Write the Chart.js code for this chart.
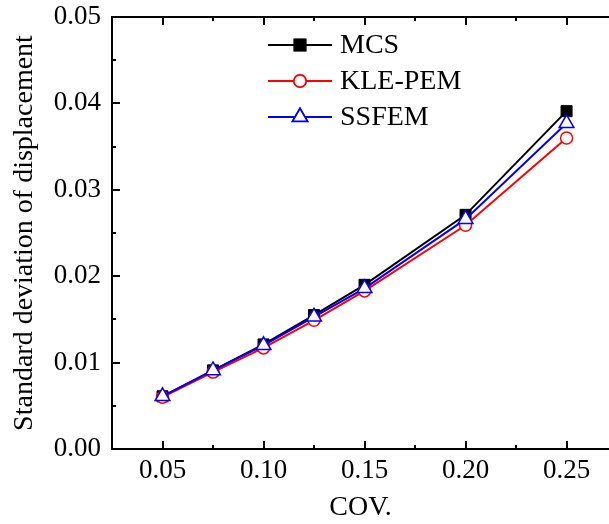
<!DOCTYPE html>
<html>
<head>
<meta charset="utf-8">
<script src="https://cdn.jsdelivr.net/npm/chart.js@4.4.0/dist/chart.umd.min.js"></script>
<style>
  html, body { margin: 0; padding: 0; background: #fff; }
  #wrap { width: 609px; height: 524px; }
</style>
</head>
<body>
<div id="wrap"><canvas id="myChart" width="609" height="524"></canvas></div>
<script>
const cov = [0.05, 0.075, 0.10, 0.125, 0.15, 0.20, 0.25];
const mcs = [0.0061, 0.0091, 0.0121, 0.0155, 0.0190, 0.0271, 0.0391];
const klePem = [0.0060, 0.0089, 0.0117, 0.0149, 0.0183, 0.0259, 0.0360];
const ssfem = [0.0061, 0.0091, 0.0120, 0.0153, 0.0186, 0.0266, 0.0377];

const xTicks = [0.05, 0.10, 0.15, 0.20, 0.25];
const xMinorTicks = [0.075, 0.125, 0.175, 0.225];
const yTicks = [0.00, 0.01, 0.02, 0.03, 0.04, 0.05];
const yMinorTicks = [0.005, 0.015, 0.025, 0.035, 0.045];

const seriesNames = ['MCS', 'KLE-PEM', 'SSFEM'];

const FONT = '"Liberation Serif", "Times New Roman", serif';

function toPoints(ys) {
    return cov.map((x, i) => ({ x: x, y: ys[i] }));
}

function noPad(s) {
    s.paddingLeft = 0; s.paddingRight = 0;
    s.paddingTop = 0; s.paddingBottom = 0;
}

// inward ticks, top spine and legend inside the plot
const framePlugin = {
    id: 'frame',
    afterDraw(chart) {
        const ctx = chart.ctx;
        const area = chart.chartArea;
        const xs = chart.scales.x;
        const ys = chart.scales.y;
        ctx.save();
        ctx.strokeStyle = '#000';
        ctx.lineWidth = 2;
        ctx.beginPath();
        ctx.moveTo(area.left - 1, area.top);
        ctx.lineTo(area.right, area.top);
        ctx.stroke();

        ctx.beginPath();
        xTicks.forEach(v => {
            const px = Math.round(xs.getPixelForValue(v));
            ctx.moveTo(px, area.bottom); ctx.lineTo(px, area.bottom - 8);
            ctx.moveTo(px, area.top); ctx.lineTo(px, area.top + 8);
        });
        xMinorTicks.forEach(v => {
            const px = Math.round(xs.getPixelForValue(v));
            ctx.moveTo(px, area.bottom); ctx.lineTo(px, area.bottom - 4);
            ctx.moveTo(px, area.top); ctx.lineTo(px, area.top + 4);
        });
        yTicks.forEach(v => {
            const py = Math.round(ys.getPixelForValue(v));
            ctx.moveTo(area.left, py); ctx.lineTo(area.left + 8, py);
        });
        yMinorTicks.forEach(v => {
            const py = Math.round(ys.getPixelForValue(v));
            ctx.moveTo(area.left, py); ctx.lineTo(area.left + 4, py);
        });
        ctx.stroke();

        // legend
        const lx0 = 268, lx1 = 332, tx = 340;
        const rows = [45, 81, 117];
        chart.data.datasets.forEach((ds, i) => {
            const y = rows[i];
            ctx.strokeStyle = ds.borderColor;
            ctx.lineWidth = 2;
            ctx.beginPath();
            ctx.moveTo(lx0, y); ctx.lineTo(lx1, y);
            ctx.stroke();
            Chart.helpers.drawPoint(ctx, {
                pointStyle: ds.pointStyle,
                radius: ds.pointRadius,
                rotation: 0,
                borderWidth: 1.5
            }, (lx0 + lx1) / 2, y);
            ctx.fillStyle = ds.pointBackgroundColor;
            ctx.strokeStyle = ds.pointBorderColor;
            ctx.lineWidth = 1.5;
            ctx.fill();
            ctx.stroke();
            ctx.fillStyle = '#000';
            ctx.font = '28px ' + FONT;
            ctx.textBaseline = 'middle';
            ctx.fillText(ds.label, tx, y + 1);
        });
        ctx.restore();
    }
};

const ctx = document.getElementById('myChart').getContext('2d');
new Chart(ctx, {
    type: 'line',
    data: {
        datasets: [
            {
                label: seriesNames[0],
                data: toPoints(mcs),
                borderColor: '#000000',
                backgroundColor: '#000000',
                pointBackgroundColor: '#000000',
                pointBorderColor: '#000000',
                pointStyle: 'rect',
                pointRadius: 7.8,
                pointBorderWidth: 1,
                borderWidth: 2,
                order: 3
            },
            {
                label: seriesNames[1],
                data: toPoints(klePem),
                borderColor: '#ff0000',
                backgroundColor: '#ffffff',
                pointBackgroundColor: '#ffffff',
                pointBorderColor: '#ff0000',
                pointStyle: 'circle',
                pointRadius: 6,
                pointBorderWidth: 1.5,
                borderWidth: 2,
                order: 2
            },
            {
                label: seriesNames[2],
                data: toPoints(ssfem),
                borderColor: '#0000ff',
                backgroundColor: '#ffffff',
                pointBackgroundColor: '#ffffff',
                pointBorderColor: '#0000ff',
                pointStyle: 'triangle',
                pointRadius: 8.5,
                pointBorderWidth: 1.5,
                borderWidth: 2,
                order: 1
            }
        ]
    },
    options: {
        responsive: false,
        animation: false,
        layout: { autoPadding: false, padding: { left: 0, right: 0, top: 17, bottom: 0 } },
        plugins: {
            legend: { display: false },
            tooltip: { enabled: false }
        },
        scales: {
            x: {
                type: 'linear',
                min: 0.025,
                max: 0.271,
                afterBuildTicks: s => { s.ticks = xTicks.map(v => ({ value: v })); },
                afterFit: s => { s.height = 75; noPad(s); },
                grid: { display: false, drawTicks: false },
                border: { display: true, color: '#000', width: 2 },
                ticks: {
                    color: '#000',
                    font: { family: FONT, size: 27 },
                    padding: 6,
                    maxRotation: 0,
                    callback: v => Number(v).toFixed(2)
                },
                title: {
                    display: true,
                    text: 'COV.',
                    color: '#000',
                    font: { family: FONT, size: 28 },
                    padding: { top: 0, bottom: 0 }
                }
            },
            y: {
                type: 'linear',
                min: 0,
                max: 0.05,
                afterBuildTicks: s => { s.ticks = yTicks.map(v => ({ value: v })); },
                afterFit: s => { s.width = 112; noPad(s); },
                grid: { display: false, drawTicks: false },
                border: { display: true, color: '#000', width: 2 },
                ticks: {
                    color: '#000',
                    font: { family: FONT, size: 27 },
                    padding: 11,
                    callback: v => Number(v).toFixed(2)
                },
                title: {
                    display: true,
                    text: 'Standard deviation of displacement',
                    color: '#000',
                    font: { family: FONT, size: 28 },
                    padding: { top: 8, bottom: 0 }
                }
            }
        }
    },
    plugins: [framePlugin]
});
</script>
</body>
</html>
